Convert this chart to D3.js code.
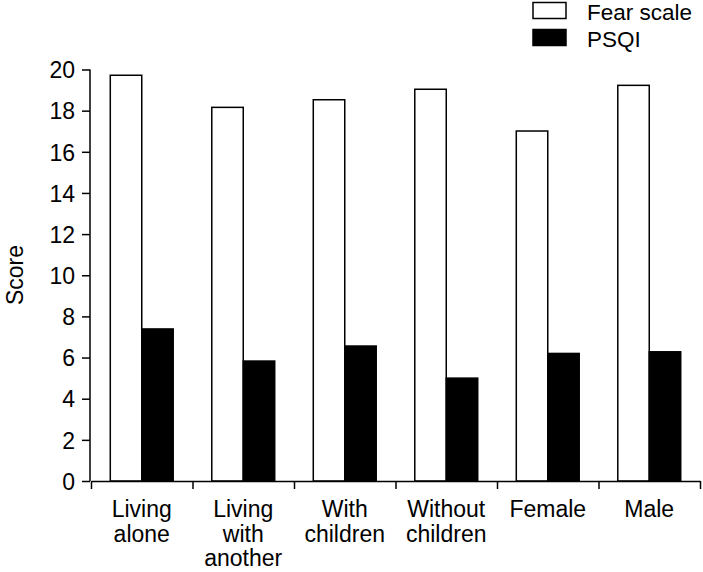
<!DOCTYPE html>
<html><head><meta charset="utf-8">
<script src="https://cdn.jsdelivr.net/npm/d3@7"></script>
<style>body{margin:0;background:#fff}svg{display:block}text{font-family:"Liberation Sans",Arial,sans-serif;fill:#000}</style>
</head><body><svg id="c" width="703" height="572"></svg>
<script>
const categories = [["Living","alone"],["Living","with","another"],["With","children"],["Without","children"],["Female"],["Male"]];
const seriesNames = ["Fear scale","PSQI"];
const fearScale = [19.72,18.16,18.53,19.04,17.01,19.23];
const psqi = [7.39,5.83,6.56,5.00,6.20,6.28];
const yTicks = [0,2,4,6,8,10,12,14,16,18,20];
const fills = ["#fff","#000"];

const svg = d3.select("#c");
const y = d3.scaleLinear().domain([0,20]).range([481,69.5]);
const catKeys = categories.map((d,i)=>i);
const x0 = d3.scaleBand().domain(catKeys).range([91,700]).paddingInner(0.38).paddingOuter(0.19);
const x1 = d3.scaleBand().domain([0,1]).range([0,x0.bandwidth()]);
const xb = d3.scaleLinear().domain([0,6]).range([91,700]);
const series = [fearScale, psqi];

series.forEach((vals,s)=>{
  svg.append("g").selectAll("rect").data(vals).join("rect")
    .attr("x",(d,i)=>x0(i)+x1(s))
    .attr("y",d=>y(d))
    .attr("width",x1.bandwidth())
    .attr("height",d=>y(0)-y(d))
    .attr("fill",fills[s]).attr("stroke","#000").attr("stroke-width",1.5);
});

const ya = svg.append("g").attr("transform","translate(90,0)")
  .call(d3.axisLeft(y).tickValues(yTicks).tickSize(8).tickPadding(7).tickFormat(d3.format("d")));
ya.select(".domain").attr("d",`M0,${y(20)}V${y(0)}`).attr("stroke-width",1.5);
ya.selectAll(".tick line").attr("stroke-width",1.5);
ya.selectAll("text").style("font-size","23px").attr("dy","0.36em");

const xa = svg.append("g").attr("transform",`translate(0,${y(0)})`)
  .call(d3.axisBottom(xb).tickValues([0,1,2,3,4,5,6]).tickSize(8).tickSizeOuter(0).tickFormat(""));
xa.select(".domain").attr("stroke-width",1.5);
xa.selectAll(".tick line").attr("stroke-width",1.5);

categories.forEach((lines,i)=>{
  const t = svg.append("text").attr("text-anchor","middle").style("font-size","23px");
  lines.forEach((l,j)=>t.append("tspan").attr("x",x0(i)+x0.bandwidth()/2).attr("y",517+j*24.5).text(l));
});

svg.append("text").attr("transform","translate(23,275) rotate(-90)").attr("text-anchor","middle")
  .style("font-size","23px").text("Score");

seriesNames.forEach((n,i)=>{
  svg.append("rect").attr("x",533).attr("y",2.5+i*27).attr("width",33).attr("height",16)
    .attr("fill",fills[i]).attr("stroke","#000").attr("stroke-width",1.5);
  svg.append("text").attr("x",587).attr("y",20+i*26.5).style("font-size","22.5px").text(n);
});
</script></body></html>
